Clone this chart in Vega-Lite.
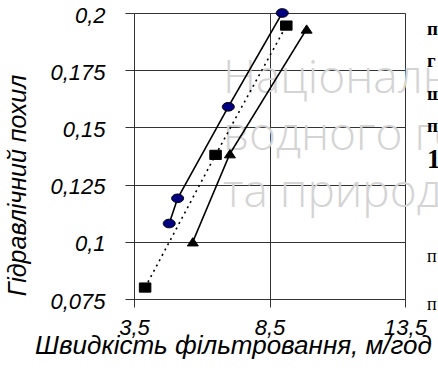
{
  "$schema": "https://vega.github.io/schema/vega-lite/v6.json",
  "width": 271,
  "height": 286,
  "autosize": "none",
  "padding": {"left": 134, "top": 13, "right": 33, "bottom": 77},
  "background": "white",
  "config": {"view": {"stroke": null}, "font": "Liberation Sans"},
  "datasets": {
    "series": [
      {"series": "A", "v": 4.8, "slope": 0.108},
      {"series": "A", "v": 5.11, "slope": 0.119},
      {"series": "A", "v": 6.98, "slope": 0.159},
      {"series": "A", "v": 8.97, "slope": 0.2},
      {"series": "B", "v": 3.91, "slope": 0.08},
      {"series": "B", "v": 6.51, "slope": 0.138},
      {"series": "B", "v": 9.12, "slope": 0.1945},
      {"series": "C", "v": 5.67, "slope": 0.1},
      {"series": "C", "v": 7.04, "slope": 0.1385},
      {"series": "C", "v": 9.87, "slope": 0.193}
    ],
    "watermark": [
      {"label": "Національний університет", "v": 6.78, "slope": 0.1649},
      {"label": "водного господарства", "v": 6.78, "slope": 0.14},
      {"label": "та природокористування", "v": 6.78, "slope": 0.1151}
    ],
    "boldLetters": [
      {"label": "п", "v": 14.31, "slope": 0.1903},
      {"label": "г", "v": 14.31, "slope": 0.1763},
      {"label": "ш", "v": 14.31, "slope": 0.1618},
      {"label": "п", "v": 14.31, "slope": 0.1479}
    ],
    "boldDigit": [
      {"label": "1", "v": 14.31, "slope": 0.1321}
    ],
    "plainText": [
      {"label": "п", "v": 14.31, "slope": 0.091},
      {"label": "п", "v": 14.31, "slope": 0.0703}
    ]
  },
  "encoding": {
    "x": {
      "field": "v",
      "type": "quantitative",
      "scale": {"domain": [3.5, 13.5], "nice": false, "zero": false},
      "axis": {
        "values": [3.5, 8.5, 13.5],
        "labelExpr": "replace(toString(datum.value), '.', ',')",
        "title": "Швидкість фільтровання, м/год",
        "titleFont": "Liberation Sans",
        "titleFontStyle": "italic",
        "titleFontWeight": "normal",
        "titleFontSize": 26,
        "titleColor": "#000",
        "titleX": 99,
        "titleY": 54,
        "titleAlign": "center",
        "titleBaseline": "alphabetic",
        "labelFont": "Liberation Sans",
        "labelFontStyle": "italic",
        "labelFontSize": 22,
        "labelColor": "#000",
        "labelPadding": 10,
        "labelFlush": false,
        "labelOverlap": false,
        "ticks": true,
        "tickSize": 8,
        "tickColor": "#333",
        "domainColor": "#333",
        "grid": true,
        "gridColor": "#333",
        "gridOpacity": 1
      }
    },
    "y": {
      "field": "slope",
      "type": "quantitative",
      "scale": {"domain": [0.075, 0.2], "nice": false, "zero": false},
      "axis": {
        "values": [0.075, 0.1, 0.125, 0.15, 0.175, 0.2],
        "labelExpr": "replace(toString(datum.value), '.', ',')",
        "title": "Гідравлічний  похил",
        "titleFont": "Liberation Sans",
        "titleFontStyle": "italic",
        "titleFontWeight": "normal",
        "titleFontSize": 25,
        "titleColor": "#000",
        "titleAngle": -90,
        "titleX": -117,
        "titleY": 172,
        "titleAlign": "center",
        "titleBaseline": "middle",
        "labelFont": "Liberation Sans",
        "labelFontStyle": "italic",
        "labelFontSize": 22,
        "labelColor": "#000",
        "labelPadding": 20,
        "labelOffset": 2,
        "labelFlush": false,
        "labelOverlap": false,
        "ticks": true,
        "tickSize": 9,
        "tickColor": "#333",
        "domainColor": "#333",
        "grid": true,
        "gridColor": "#333",
        "gridOpacity": 1
      }
    }
  },
  "layer": [
    {
      "data": {"name": "watermark"},
      "mark": {"type": "text", "align": "left", "baseline": "alphabetic", "font": "Open Sans", "fontWeight": 300, "fontSize": 46, "color": "#d4d4d4"},
      "encoding": {"text": {"field": "label"}}
    },
    {
      "data": {"name": "series"},
      "mark": {"type": "line", "color": "#000", "strokeWidth": 1.6},
      "encoding": {
        "detail": {"field": "series"},
        "order": {"field": "v"},
        "strokeDash": {
          "field": "series",
          "type": "nominal",
          "scale": {"domain": ["A", "B", "C"], "range": [[1, 0], [2, 4], [1, 0]]},
          "legend": null
        },
        "strokeWidth": {
          "field": "series",
          "type": "nominal",
          "scale": {"domain": ["A", "B", "C"], "range": [1.6, 2.5, 1.6]},
          "legend": null
        }
      }
    },
    {
      "data": {"name": "series"},
      "mark": {"type": "point", "filled": true, "opacity": 1, "stroke": "#000", "strokeWidth": 1},
      "encoding": {
        "shape": {
          "field": "series",
          "type": "nominal",
          "scale": {
            "domain": ["A", "B", "C"],
            "range": [
              "M-1,0A1,0.72,0,1,0,1,0A1,0.72,0,1,0,-1,0Z",
              "M-1,-0.8H1V0.8H-1Z",
              "M0,-0.75L1,0.75L-1,0.75Z"
            ]
          },
          "legend": null
        },
        "fill": {
          "field": "series",
          "type": "nominal",
          "scale": {"domain": ["A", "B", "C"], "range": ["#000080", "#000000", "#000000"]},
          "legend": null
        },
        "size": {
          "field": "series",
          "type": "nominal",
          "scale": {"domain": ["A", "B", "C"], "range": [144, 121, 225]},
          "legend": null
        }
      }
    },
    {
      "data": {"name": "boldLetters"},
      "mark": {"type": "text", "align": "left", "baseline": "alphabetic", "font": "Liberation Serif", "fontWeight": "bold", "fontSize": 19, "color": "#000"},
      "encoding": {"text": {"field": "label"}}
    },
    {
      "data": {"name": "boldDigit"},
      "mark": {"type": "text", "align": "left", "baseline": "alphabetic", "font": "Liberation Serif", "fontWeight": "bold", "fontSize": 27, "color": "#000"},
      "encoding": {"text": {"field": "label"}}
    },
    {
      "data": {"name": "plainText"},
      "mark": {"type": "text", "align": "left", "baseline": "alphabetic", "font": "Liberation Serif", "fontSize": 18, "color": "#000"},
      "encoding": {"text": {"field": "label"}}
    }
  ]
}
